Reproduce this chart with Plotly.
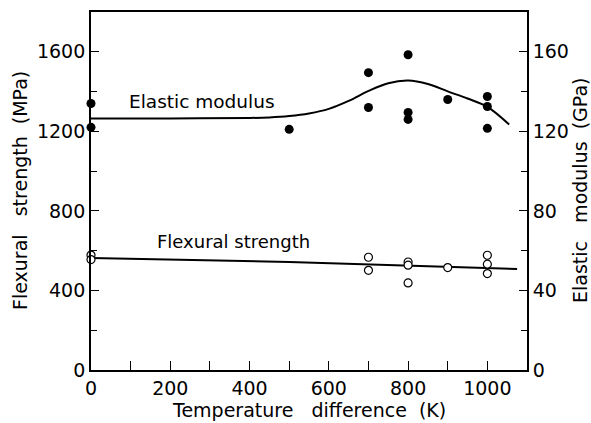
import plotly.graph_objects as go

# Elastic modulus (GPa) measured points
em_x = [0, 0, 500, 700, 700, 800, 800, 800, 900, 1000, 1000, 1000]
em_y = [134, 122, 121, 149.5, 132, 158.5, 129.5, 126, 136, 137.5, 132.5, 121.5]

# Elastic modulus fitted curve (GPa)
em_curve_x = [0, 200, 400, 450, 500, 550, 600, 650, 700, 750, 800, 850, 900, 950, 1000, 1055]
em_curve_y = [126.5, 126.5, 126.7, 127.0, 127.7, 129.0, 131.3, 135.3, 140.3, 144.2, 145.5, 143.8, 140.1, 136.5, 132.3, 123.4]

# Flexural strength (MPa) measured points
fs_x = [0, 0, 700, 700, 800, 800, 800, 900, 1000, 1000, 1000]
fs_y = [578, 555, 567, 501, 543, 527, 438, 515, 577, 532, 485]

# Flexural strength fitted line (MPa)
fs_curve_x = [0, 500, 1075]
fs_curve_y = [563, 543, 508]

FONT = "DejaVu Sans"
fig = go.Figure()

fig.add_trace(go.Scatter(x=fs_curve_x, y=fs_curve_y, mode="lines", cliponaxis=False,
                         line=dict(color="black", width=2), yaxis="y", showlegend=False))
fig.add_trace(go.Scatter(x=fs_x, y=fs_y, mode="markers", cliponaxis=False,
                         marker=dict(symbol="circle", size=8, color="white",
                                     line=dict(color="black", width=1.2)),
                         yaxis="y", showlegend=False))
fig.add_trace(go.Scatter(x=em_curve_x, y=em_curve_y, mode="lines", line_shape="spline",
                         cliponaxis=False,
                         line=dict(color="black", width=2), yaxis="y2", showlegend=False))
fig.add_trace(go.Scatter(x=em_x, y=em_y, mode="markers", cliponaxis=False,
                         marker=dict(symbol="circle", size=9, color="black"),
                         yaxis="y2", showlegend=False))

axis_common = dict(showgrid=False, zeroline=False, showline=True, linecolor="black",
                   linewidth=1.8, ticks="inside", tickcolor="black", tickwidth=1.2,
                   tickfont=dict(family=FONT, size=19, color="black"))

fig.update_layout(
    width=591, height=423,
    margin=dict(l=91, r=64, t=10, b=53),
    paper_bgcolor="white", plot_bgcolor="white",
    xaxis=dict(range=[0, 1100], dtick=200, ticklen=9, mirror=True,
               minor=dict(dtick=100, ticks="inside", ticklen=9, tickcolor="black"),
               **axis_common),
    yaxis=dict(range=[0, 1800], dtick=400, ticklen=8,
               minor=dict(dtick=200, ticks="inside", ticklen=6, tickcolor="black"),
               **axis_common),
    yaxis2=dict(range=[0, 180], dtick=40, ticklen=8, overlaying="y", side="right",
                minor=dict(dtick=20, ticks="inside", ticklen=6, tickcolor="black"),
                **axis_common),
    annotations=[
        dict(text="Elastic modulus", x=280, y=135.1, xref="x", yref="y2", showarrow=False,
             font=dict(family=FONT, size=18.5, color="black")),
        dict(text="Flexural strength", x=359, y=644, xref="x", yref="y", showarrow=False,
             font=dict(family=FONT, size=18, color="black")),
        dict(text="Temperature\u00a0\u00a0\u00a0difference\u00a0\u00a0(K)", x=0.5, y=0, yshift=-40,
             xref="paper", yref="paper", showarrow=False, yanchor="middle",
             font=dict(family=FONT, size=19, color="black")),
        dict(text="Flexural\u00a0\u00a0\u00a0strength\u00a0\u00a0(MPa)", x=0, xshift=-71, y=0.5,
             xref="paper", yref="paper", xanchor="center", yanchor="middle",
             showarrow=False, textangle=-90,
             font=dict(family=FONT, size=19, color="black")),
        dict(text="Elastic\u00a0\u00a0\u00a0modulus\u00a0\u00a0(GPa)", x=1, xshift=53, y=0.5,
             xref="paper", yref="paper", xanchor="center", yanchor="middle",
             showarrow=False, textangle=-90,
             font=dict(family=FONT, size=19, color="black")),
    ],
)

fig.write_html("out.html")
